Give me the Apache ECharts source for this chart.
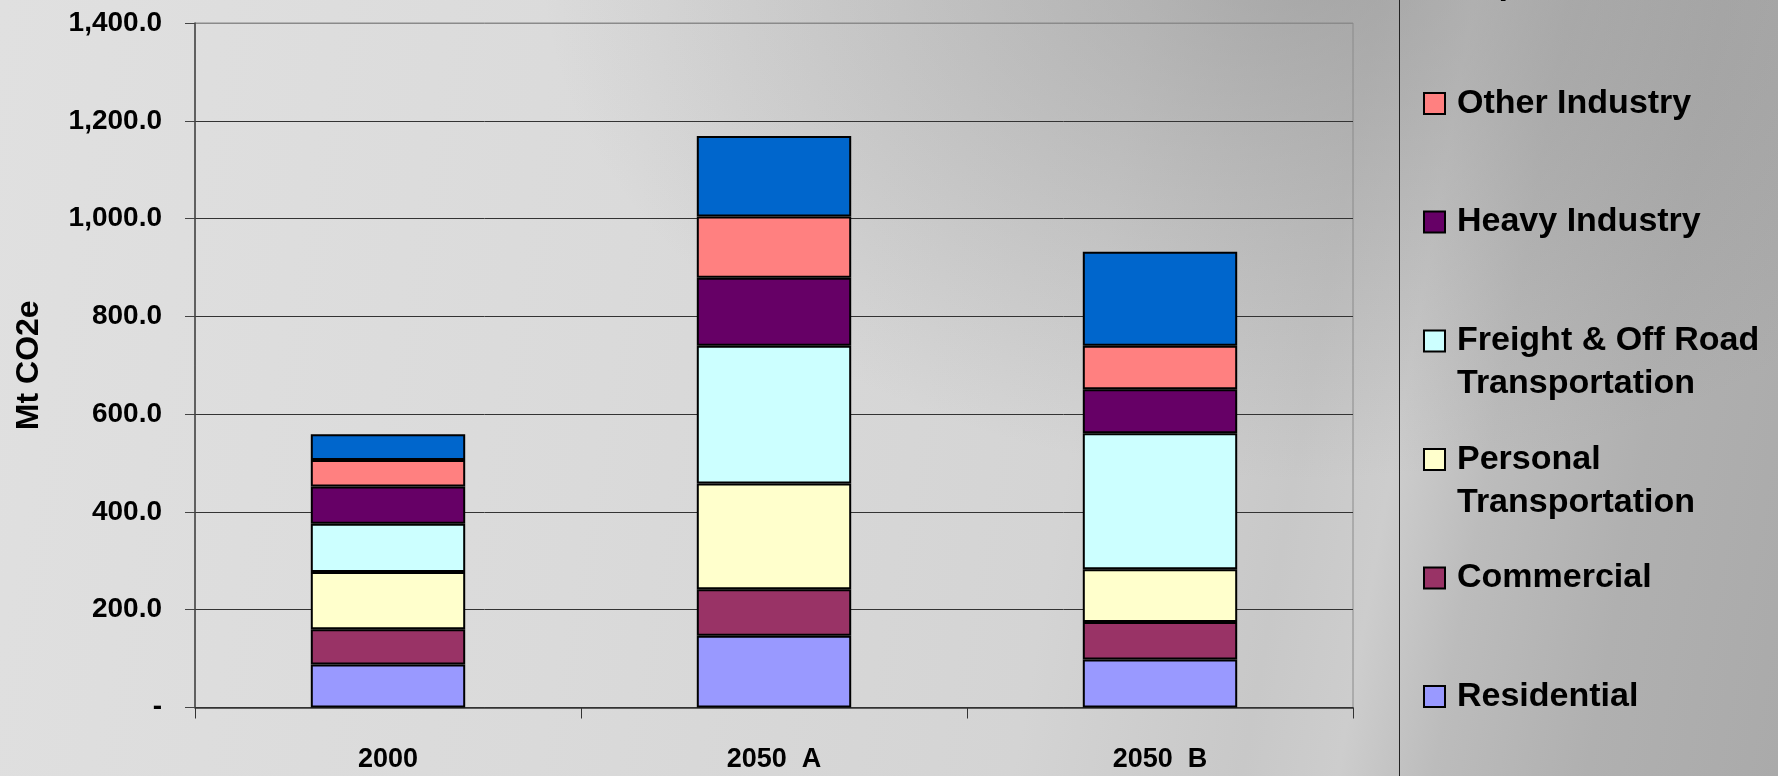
<!DOCTYPE html>
<html>
<head>
<meta charset="utf-8">
<title>Mt CO2e by sector</title>
<script src="https://cdn.jsdelivr.net/npm/echarts@6/dist/echarts.min.js"></script>
<style>
  html, body { margin: 0; padding: 0; }
  #chart {
    width: 1778px;
    height: 776px;
    background:
      radial-gradient(ellipse 760px 520px at 1300px -40px, rgba(120,120,120,0.45), rgba(120,120,120,0) 100%),
      linear-gradient(100deg, #e0e0e0 0%, #dadada 35%, #d4d4d4 60%, #c8c8c8 72%, #cdcdcd 77%, #bcbcbc 82%, #b0b0b0 90%, #aaaaaa 100%);
  }
</style>
</head>
<body>
<div id="chart"></div>
<script>
// Scenario categories and the emissions of each sector, Mt CO2e
const categories = ['2000', '2050  A', '2050  B'];

const residential = [88, 147, 98];
const commercial = [72, 95, 77];
const personalTransportation = [117, 216, 108];
const freightTransportation = [99, 282, 278];
const heavyIndustry = [76, 139, 90];
const otherIndustry = [54, 125, 89];
const exportsSector = [53, 165, 192];

const yTicks = { min: 0, max: 1400, interval: 200 };

// Stack order, bottom to top
const sectors = [
  { name: 'Residential', data: residential, color: '#9999FF' },
  { name: 'Commercial', data: commercial, color: '#993366' },
  { name: 'Personal Transportation', data: personalTransportation, color: '#FFFFCC' },
  { name: 'Freight & Off Road Transportation', data: freightTransportation, color: '#CCFFFF' },
  { name: 'Heavy Industry', data: heavyIndustry, color: '#660066' },
  { name: 'Other Industry', data: otherIndustry, color: '#FF8080' },
  { name: 'Exports', data: exportsSector, color: '#0066CC' }
];

// Legend text lines (first line sits beside the swatch)
const legendLines = {
  'Residential': ['Residential'],
  'Commercial': ['Commercial'],
  'Personal Transportation': ['Personal', 'Transportation'],
  'Freight & Off Road Transportation': ['Freight & Off Road', 'Transportation'],
  'Heavy Industry': ['Heavy Industry'],
  'Other Industry': ['Other Industry'],
  'Exports': ['Exports']
};
// swatch centre heights, top to bottom of the key
const legendCentres = {
  'Exports': -15,
  'Other Industry': 103.5,
  'Heavy Industry': 222,
  'Freight & Off Road Transportation': 341,
  'Personal Transportation': 459.5,
  'Commercial': 578,
  'Residential': 696.5
};

const FONT = 'Arial, "Liberation Sans", sans-serif';
const LEGEND_LH = 43;

const chart = echarts.init(document.getElementById('chart'), null, { renderer: 'canvas' });

const legends = sectors.map(s => {
  const lines = legendLines[s.name];
  const multi = lines.length > 1;
  // a leading blank line keeps the first text line level with the swatch
  const text = multi ? '\n' + lines.join('\n') : lines[0];
  const half = multi ? LEGEND_LH * 1.5 : LEGEND_LH / 2;
  return {
    data: [s.name],
    orient: 'vertical',
    left: 1423,
    top: legendCentres[s.name] - half,
    padding: 0,
    icon: 'rect',
    itemWidth: 21,
    itemHeight: 21,
    selectedMode: false,
    itemStyle: { borderColor: '#000', borderWidth: 2 },
    formatter: () => text,
    textStyle: {
      color: '#000',
      fontFamily: FONT,
      fontWeight: 'bold',
      fontSize: 34,
      lineHeight: LEGEND_LH,
      padding: [0, 0, 0, 7]
    }
  };
});

const gridColors = ['#333', '#333', '#333', '#333', '#333', '#333', '#333', '#8a8a8a'];

const option = {
  backgroundColor: 'transparent',
  animation: false,
  grid: {
    left: 195,
    right: 425,
    top: 23,
    bottom: 68.5,
    outerBoundsMode: 'none',
    containLabel: false,
    show: true,
    borderColor: '#8a8a8a',
    borderWidth: 1,
    backgroundColor: 'transparent'
  },
  legend: legends,
  xAxis: {
    type: 'category',
    data: categories,
    axisLine: { lineStyle: { color: '#333', width: 1.5 } },
    axisTick: { show: true, alignWithLabel: false, length: 11, lineStyle: { color: '#333' } },
    axisLabel: {
      color: '#000',
      fontFamily: FONT,
      fontWeight: 'bold',
      fontSize: 27,
      margin: 39
    }
  },
  yAxis: {
    type: 'value',
    min: yTicks.min,
    max: yTicks.max,
    interval: yTicks.interval,
    name: 'Mt CO2e',
    nameLocation: 'middle',
    nameRotate: 90,
    nameGap: 150,
    nameTextStyle: {
      color: '#000',
      fontFamily: FONT,
      fontWeight: 'bold',
      fontSize: 32
    },
    axisLine: { show: true, lineStyle: { color: '#444', width: 1.5 } },
    axisTick: { show: true, length: 10, lineStyle: { color: '#444' } },
    splitLine: { show: true, lineStyle: { color: gridColors, width: 1 } },
    axisLabel: {
      color: '#000',
      fontFamily: FONT,
      fontWeight: 'bold',
      fontSize: 28,
      margin: 33,
      formatter: v => v === 0 ? '-' : v.toLocaleString('en-US', { minimumFractionDigits: 1, maximumFractionDigits: 1 })
    }
  },
  graphic: [
    {
      type: 'line',
      shape: { x1: 1399.5, y1: 0, x2: 1399.5, y2: 776 },
      style: { stroke: '#222', lineWidth: 1 },
      silent: true
    }
  ],
  series: sectors.map(s => ({
    name: s.name,
    type: 'bar',
    stack: 'total',
    data: s.data,
    barCategoryGap: '60%',
    itemStyle: { color: s.color, borderColor: '#000', borderWidth: 2 }
  }))
};

chart.setOption(option);
</script>
</body>
</html>
